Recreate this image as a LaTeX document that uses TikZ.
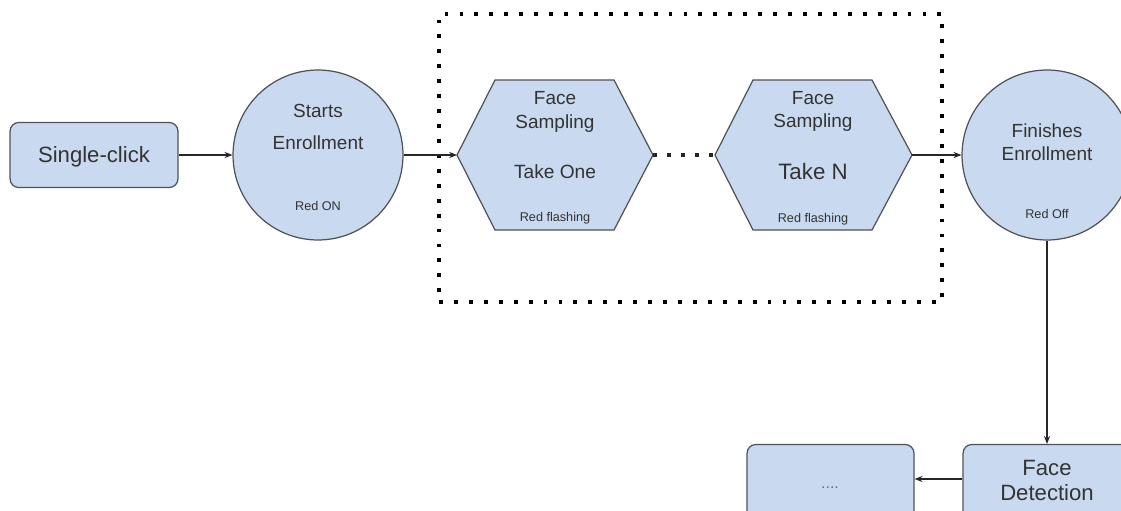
\documentclass[tikz,border=0pt]{standalone}
\usepackage{fontspec}
\setmainfont{Liberation Sans}
\usetikzlibrary{arrows.meta}
\definecolor{fillb}{HTML}{C9DAF0}
\definecolor{edge}{HTML}{4F5257}
\definecolor{txt}{HTML}{333333}
\begin{document}
\begin{tikzpicture}[x=0.02cm,y=-0.02cm,
  box/.style={draw=edge, fill=fillb, line width=0.7pt, rounded corners=5pt, inner sep=0pt},
  circ/.style={circle, draw=edge, fill=fillb, line width=0.7pt, minimum size=3.4cm, inner sep=0pt},
  hexnode/.style={draw=none, inner sep=0pt, minimum width=3.9cm, minimum height=3cm},
  lbl/.style={text=txt, align=center, inner sep=0pt, anchor=base},
  big/.style={font=\fontsize{12.6}{14}\selectfont},
  mid/.style={font=\fontsize{10.8}{12}\selectfont},
  small/.style={font=\fontsize{7.2}{8}\selectfont},
  arr/.style={draw=black!85, line width=0.6pt, -{Stealth[length=4.5pt,width=3.5pt]}},
  dotframe/.style={draw=black, line width=2.2pt, dash pattern=on 2.2pt off 6.3pt},
  dotlink/.style={draw=black!85, line width=2pt, dash pattern=on 2pt off 6pt}
]
\useasboundingbox (0,0) rectangle (1121,510);
\clip (0,0) rectangle (1121,510);
\fill[white] (0,0) rectangle (1121,510);

% dotted frame
\node[dotframe, inner sep=0pt, minimum width=10.06cm, minimum height=5.76cm] (frame) at (690.5,158) {};

% Single-click
\node[box, minimum width=3.36cm, minimum height=1.3cm] (single) at (94,155) {};
\node[lbl, big] (singleT) at (94,162) {Single-click};

% Starts enrollment
\node[circ] (start) at (318,155) {};
\node[lbl, mid] (startT1) at (318,117) {Starts};
\node[lbl, mid] (startT2) at (318,149) {Enrollment};
\node[lbl, small] (startT3) at (318,210) {Red ON};

% hexagon 1
\node[hexnode] (hexA) at (555,155) {};
\coordinate (hexAl) at (457,155);
\coordinate (hexAr) at (653,155);
\draw[draw=edge, fill=fillb, line width=0.7pt] (hexAl) -- (495,80) -- (614,80) -- (hexAr) -- (614,230) -- (495,230) -- cycle;
\node[lbl, mid] (hexAT1) at (555,105) {Face};
\node[lbl, mid] (hexAT2) at (555,128) {Sampling};
\node[lbl, font=\fontsize{10.9}{12}\selectfont] (hexAT3) at (555,178) {Take One};
\node[lbl, small] (hexAT4) at (555,221) {Red flashing};

% hexagon 2
\node[hexnode] (hexB) at (813,155) {};
\coordinate (hexBl) at (715,155);
\coordinate (hexBr) at (912,155);
\draw[draw=edge, fill=fillb, line width=0.7pt] (hexBl) -- (753,80) -- (872,80) -- (hexBr) -- (872,230) -- (753,230) -- cycle;
\node[lbl, mid] (hexBT1) at (813,104) {Face};
\node[lbl, mid] (hexBT2) at (813,127) {Sampling};
\node[lbl, font=\fontsize{12.7}{14}\selectfont] (hexBT3) at (813,179) {Take N};
\node[lbl, small] (hexBT4) at (813,222) {Red flashing};

% Finishes enrollment
\node[circ] (finish) at (1047,155) {};
\node[lbl, mid] (finT1) at (1047,137) {Finishes};
\node[lbl, mid] (finT2) at (1047,160) {Enrollment};
\node[lbl, small] (finT3) at (1047,218) {Red Off};

% bottom boxes
\node[box, minimum width=3.36cm, minimum height=1.5cm] (facedet) at (1047,482) {};
\node[lbl, big] (fdT1) at (1047,475) {Face};
\node[lbl, big] (fdT2) at (1047,500) {Detection};
\node[box, minimum width=3.34cm, minimum height=1.5cm] (dots) at (830.5,482) {};
\node[lbl, font=\fontsize{9}{10}\selectfont, text=txt!70] (dotsT) at (830,488) {....};

% connectors
\draw[arr] (single.east) -- (start.west);
\draw[arr] (start.east) -- (hexAl);
\draw[dotlink] (hexAr) -- (hexBl);
\draw[arr] (hexBr) -- (finish.west);
\draw[arr] (finish.south) -- (facedet.north);
\draw[arr] (facedet.west |- 0,479) -- (dots.east |- 0,479);
\end{tikzpicture}
\end{document}
